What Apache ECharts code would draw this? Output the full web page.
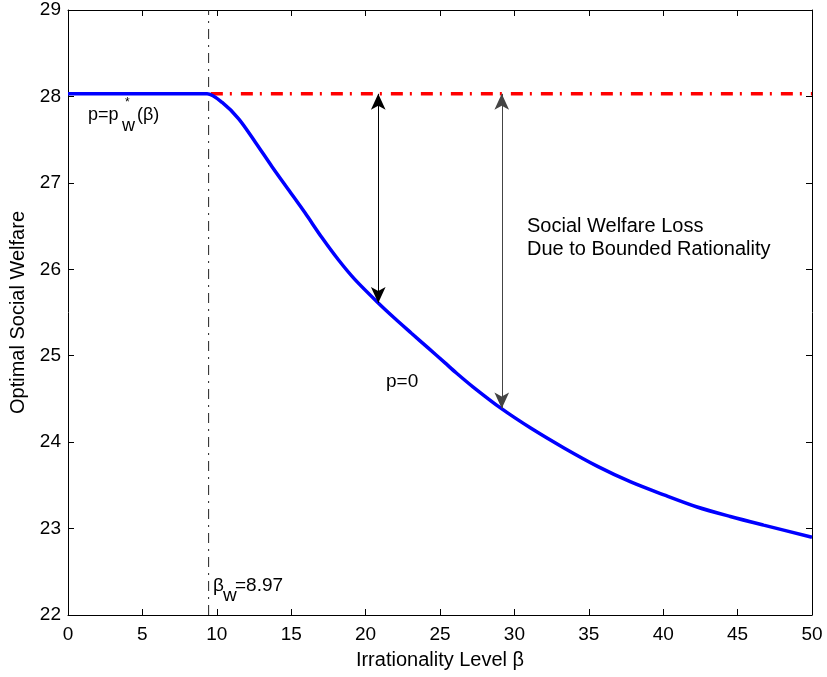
<!DOCTYPE html>
<html>
<head>
<meta charset="utf-8">
<script src="https://cdn.jsdelivr.net/npm/echarts@6/dist/echarts.min.js"></script>
<style>html,body{margin:0;padding:0;background:#fff}#c{width:827px;height:677px}</style>
</head>
<body>
<div id="c"></div>
<script>
// ---- data ----
var betaCurve = [0, 2, 4, 6, 8, 9.35, 10.36, 11.47, 12.59, 13.70, 14.82, 15.94, 17.05, 18.17, 19.29, 20.85, 21.97, 23.08, 24.20, 25.32, 26.10, 27.21, 29.11, 31.12, 33.36, 35.59, 37.82, 40.05, 42.28, 44.51, 46.75, 50];
var welfareCurve = [28.03, 28.03, 28.03, 28.03, 28.03, 28.03, 27.93, 27.74, 27.47, 27.19, 26.92, 26.65, 26.37, 26.11, 25.88, 25.61, 25.43, 25.26, 25.09, 24.92, 24.80, 24.64, 24.39, 24.16, 23.93, 23.72, 23.54, 23.39, 23.25, 23.14, 23.04, 22.90];
var betaW = 9.45;
var topWelfare = 28.03;
var refBeta = [9.6, 50];
var arrowBeta = [20.85, 29.15];
var arrowLow = [25.61, 24.39];
var xTicks = {min: 0, max: 50, step: 5};
var yTicks = {min: 22, max: 29, step: 1};

var FONT = "'Liberation Sans', Arial, sans-serif";
var chart = echarts.init(document.getElementById('c'));

var curve = betaCurve.map(function (b, i) { return [b, welfareCurve[i]]; });

function axisCommon(extra) {
  return Object.assign({
    type: 'value',
    axisLine: {show: true, onZero: false, lineStyle: {color: '#000', width: 1}},
    axisTick: {show: true, inside: true, length: 6, lineStyle: {color: '#000'}},
    splitLine: {show: false},
    axisLabel: {color: '#000', fontSize: 19, fontFamily: FONT}
  }, extra);
}

var option = {
  animation: false,
  backgroundColor: '#fff',
  grid: {left: 68, right: 15, top: 10, bottom: 62},
  xAxis: [
    axisCommon({min: xTicks.min, max: xTicks.max, interval: xTicks.step, position: 'bottom',
      name: 'Irrationality Level β', nameLocation: 'middle', nameGap: 35,
      nameTextStyle: {color: '#000', fontSize: 20, fontFamily: FONT},
      axisLabel: {color: '#000', fontSize: 19, fontFamily: FONT, margin: 10}}),
    axisCommon({min: xTicks.min, max: xTicks.max, interval: xTicks.step, position: 'top',
      axisLabel: {show: false}})
  ],
  yAxis: [
    axisCommon({min: yTicks.min, max: yTicks.max, interval: yTicks.step, position: 'left',
      name: 'Optimal Social Welfare', nameLocation: 'middle', nameGap: 40,
      nameTextStyle: {color: '#000', fontSize: 20, fontFamily: FONT},
      axisLabel: {color: '#000', fontSize: 19, fontFamily: FONT, margin: 7}}),
    axisCommon({min: yTicks.min, max: yTicks.max, interval: yTicks.step, position: 'right',
      axisLabel: {show: false}})
  ],
  series: [
    {
      type: 'line', name: 'betaW', symbol: 'none', silent: true,
      data: [[betaW, yTicks.min], [betaW, yTicks.max]],
      lineStyle: {color: '#222', width: 1, type: [10, 6, 2, 6]}
    },
    {
      type: 'line', name: 'ref', symbol: 'none', silent: true,
      data: [[refBeta[0], topWelfare], [refBeta[1], topWelfare]],
      lineStyle: {color: '#ff0000', width: 3.5, type: [12, 7, 2, 9]}
    },
    {
      type: 'line', name: 'welfare', symbol: 'none', silent: true,
      data: curve,
      smooth: 0.3,
      lineStyle: {color: '#0000ff', width: 3.5},
      z: 3,
      markLine: {
        silent: true,
        symbol: ['arrow', 'arrow'],
        symbolSize: [11, 16],
        label: {show: false},
        lineStyle: {color: '#000', width: 1, type: 'solid'},
        data: arrowBeta.map(function (b, i) {
          return [{coord: [b, topWelfare], lineStyle: {color: i === 0 ? '#000' : '#444'}},
                  {coord: [b, arrowLow[i]]}];
        })
      }
    }
  ],
  graphic: [
    {type: 'text', left: 88, top: 106, style: {text: 'p=p', font: '18px ' + FONT, fill: '#000'}},
    {type: 'text', left: 125, top: 97, style: {text: '*', font: '12px ' + FONT, fill: '#000'}},
    {type: 'text', left: 122, top: 117, style: {text: 'w', font: '18px ' + FONT, fill: '#000'}},
    {type: 'text', left: 137, top: 106, style: {text: '(β)', font: '18px ' + FONT, fill: '#000'}},

    {type: 'text', left: 213, top: 576, style: {text: 'β', font: '19px ' + FONT, fill: '#000'}},
    {type: 'text', left: 223, top: 586, style: {text: 'w', font: '19px ' + FONT, fill: '#000'}},
    {type: 'text', left: 235, top: 576, style: {text: '=8.97', font: '19px ' + FONT, fill: '#000'}},

    {type: 'text', left: 386, top: 372, style: {text: 'p=0', font: '19px ' + FONT, fill: '#000'}},

    {type: 'text', left: 527, top: 216, style: {text: 'Social Welfare Loss', font: '20px ' + FONT, fill: '#000'}},
    {type: 'text', left: 527, top: 239, style: {text: 'Due to Bounded Rationality', font: '20px ' + FONT, fill: '#000'}}
  ]
};
chart.setOption(option);
</script>
</body>
</html>
